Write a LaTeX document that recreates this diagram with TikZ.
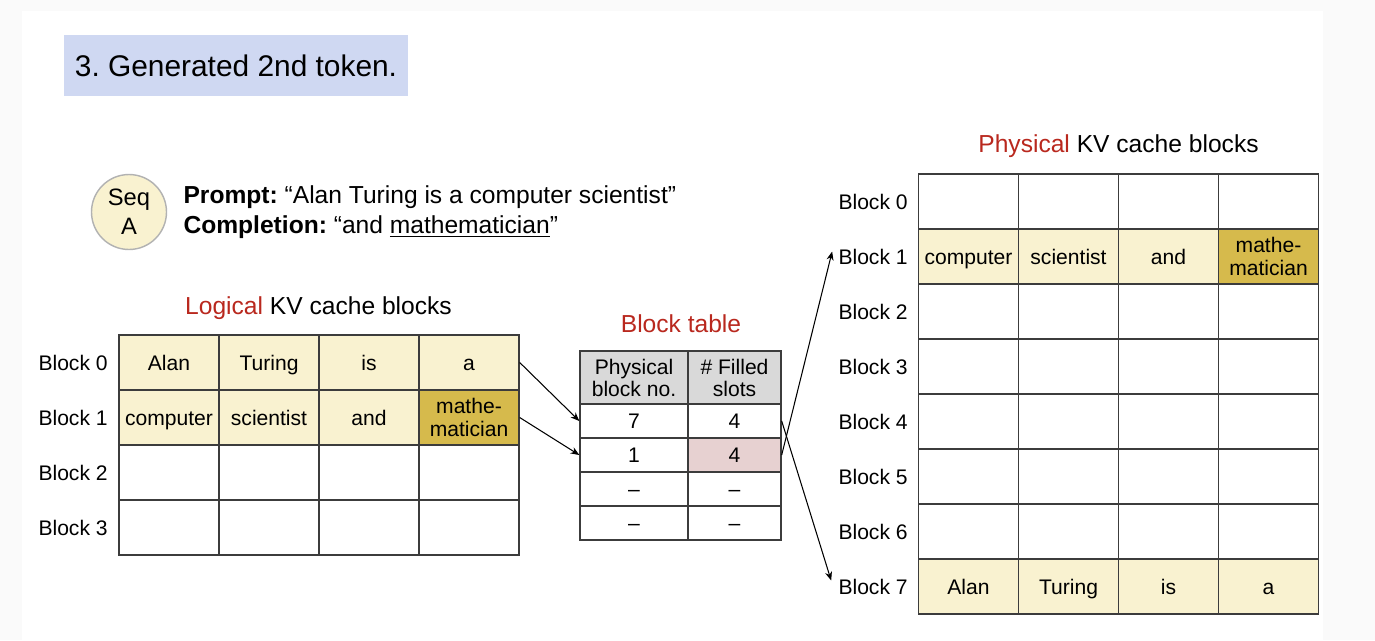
\documentclass[tikz,border=0pt]{standalone}
\usepackage{fontspec}
\setmainfont{Liberation Sans}
\usetikzlibrary{arrows.meta, positioning}
\frenchspacing

\definecolor{pagebg}{RGB}{250,250,250}
\definecolor{titlebg}{RGB}{207,216,242}
\definecolor{tokfill}{RGB}{249,242,208}
\definecolor{goldfill}{RGB}{214,186,76}
\definecolor{hdrfill}{RGB}{217,217,217}
\definecolor{slotfill}{RGB}{231,209,209}
\definecolor{hlred}{RGB}{185,40,30}
\definecolor{gridline}{RGB}{60,60,60}

\newcommand{\lblfont}{\fontsize{12}{13.5}\selectfont}
\newcommand{\ttlfont}{\fontsize{14}{16}\selectfont}

\begin{document}
\begin{tikzpicture}[x=0.02cm, y=-0.02cm,
    oneline/.style={text height=8.6pt, text depth=0pt},
    cell/.style={draw=gridline, line width=0.8pt, minimum width=2cm,
                 minimum height=1.1cm, inner sep=0pt, font=\lblfont},
    tok/.style={cell, oneline, fill=tokfill},
    lasttok/.style={cell, fill=goldfill, align=center},
    rowlbl/.style={font=\lblfont, oneline, anchor=east, inner sep=0pt},
    tcell/.style={draw=gridline, line width=0.8pt, minimum height=0.68cm,
                  inner sep=0pt, font=\lblfont},
    >={Stealth[length=5pt, width=4pt]}
  ]
    % page
    \fill[pagebg] (0,0) rectangle (1375,640);
    \fill[white] (22,11) rectangle (1323,640);
    \useasboundingbox (0,0) rectangle (1375,640);

    \node[fill=titlebg, minimum width=6.88cm, minimum height=1.22cm,
          font=\fontsize{17}{20}\selectfont] (step) at (236,65.5) {3. Generated 2nd token.};

    % sequence
    \node[circle, draw=gray!60, line width=0.8pt, fill=tokfill, minimum size=1.5cm,
          inner sep=0pt, align=center, font=\fontsize{13.5}{16.5}\selectfont] (seq) at (129,212) {Seq\\A};
    \node[right=0.32cm of seq, inner sep=0pt, align=left,
          font=\fontsize{14}{17}\selectfont] (prompt)
      {\textbf{Prompt:} “Alan Turing is a computer scientist”\\
       \textbf{Completion:} “and \underline{mathematician}”};

    % logical KV cache blocks
    \node[font=\ttlfont] (ltitle) at (318.5,308) {\textcolor{hlred}{Logical} KV cache blocks};
    \foreach \w [count=\c from 0] in {Alan,Turing,is,a}
      \node[tok] (l0\c) at (169+100*\c,362.5) {\w};
    \foreach \w [count=\c from 0] in {computer,scientist,and}
      \node[tok] (l1\c) at (169+100*\c,417.5) {\w};
    \node[lasttok] (l13) at (469,417.5) {mathe-\\matician};
    \foreach \r in {2,3}
      \foreach \c in {0,...,3}
        \node[cell] (l\r\c) at (169+100*\c,362.5+55*\r) {};
    \foreach \r in {0,...,3}
      \node[rowlbl] (lb\r) at (108,362.5+55*\r) {Block \r};

    % block table
    \node[font=\ttlfont, text=hlred] (ttitle) at (681,324) {Block table};
    \node[tcell, align=center, fill=hdrfill, minimum width=2.16cm, minimum height=1.06cm] (th0) at (634,377.5) {Physical\\[-1pt]block no.};
    \node[tcell, align=center, fill=hdrfill, minimum width=1.86cm, minimum height=1.06cm] (th1) at (734.5,377.5) {\# Filled\\[-1pt]slots};
    \foreach \p/\n [count=\r from 0] in {7/4, 1/4, --/--, --/--} {
      \node[tcell, oneline, minimum width=2.16cm] (t\r a) at (634,421+34*\r) {\p};
      \node[tcell, oneline, minimum width=1.86cm] (t\r b) at (734.5,421+34*\r) {\n};
    }
    \node[tcell, oneline, fill=slotfill, minimum width=1.86cm] (t1b) at (734.5,455) {4};

    % physical KV cache blocks
    \node[font=\ttlfont] (ptitle) at (1118.5,146) {\textcolor{hlred}{Physical} KV cache blocks};
    \foreach \r in {0,2,3,4,5,6}
      \foreach \c in {0,...,3}
        \node[cell] (p\r\c) at (968.5+100*\c,201.5+55*\r) {};
    \foreach \w [count=\c from 0] in {computer,scientist,and}
      \node[tok] (p1\c) at (968.5+100*\c,256.5) {\w};
    \node[lasttok] (p13) at (1268.5,256.5) {mathe-\\matician};
    \foreach \w [count=\c from 0] in {Alan,Turing,is,a}
      \node[tok] (p7\c) at (968.5+100*\c,586.5) {\w};
    \foreach \r in {0,...,7}
      \node[rowlbl] (pb\r) at (908,201.5+55*\r) {Block \r};

    % mapping
    \draw[->, line width=0.6pt] (l03.east) -- (t0a.west);
    \draw[->, line width=0.6pt] (l13.east) -- (t1a.west);
    \draw[->, line width=0.6pt] (t0b.east) -- ([shift={(-7,-6)}]pb7.west);
    \draw[->, line width=0.6pt] (t1b.east) -- ([shift={(-6,-5)}]pb1.west);
  \end{tikzpicture}
\end{document}
